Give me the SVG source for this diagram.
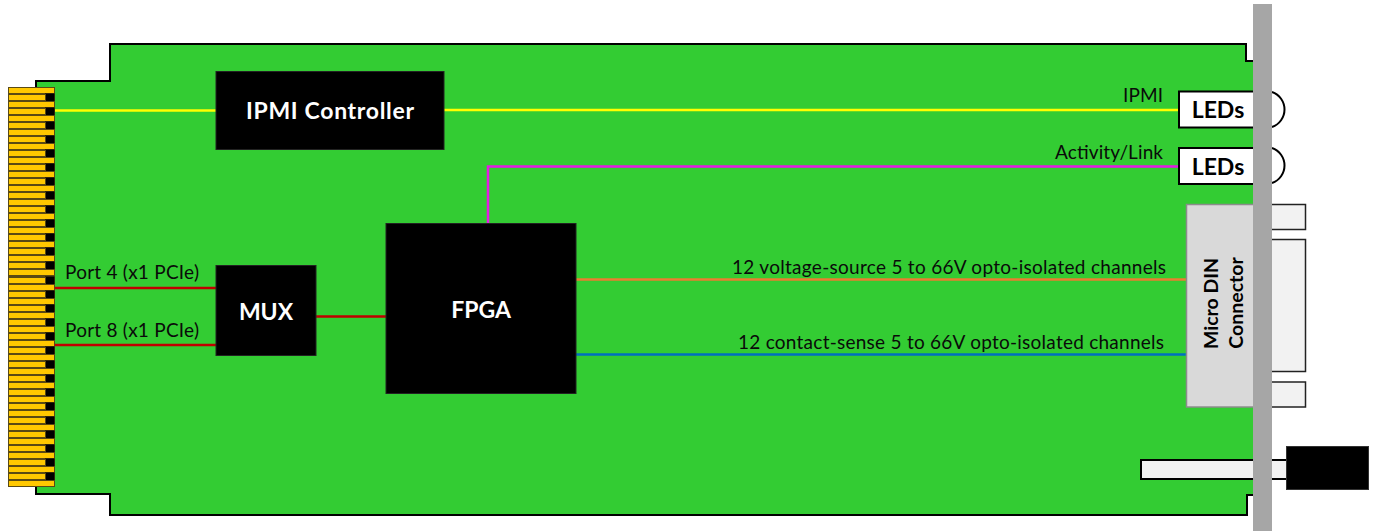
<svg xmlns="http://www.w3.org/2000/svg" width="1374" height="531" viewBox="0 0 1374 531">
<style>
text{font-family:Lato,"Open Sans","Liberation Sans",sans-serif;}
.lbl{font-size:19px;fill:#0a0a0a;}
.blk{fill:#000;stroke:#222;stroke-width:1;}
.wt{font-size:23px;font-weight:700;fill:#fff;text-anchor:middle;}
.led{fill:#fff;stroke:#000;stroke-width:2;}
.ledt{font-size:23px;font-weight:700;fill:#000;text-anchor:middle;}
.pale{fill:#f2f2f2;stroke:#222;stroke-width:1.5;}
.w{fill:none;stroke-width:2.5;}
.lf{fill:#ffc800;stroke:#5a4a14;stroke-width:1;}
</style>
<defs>
<g id="longf"><rect class="lf" x="8.500" y="0.500" width="46" height="6"/></g>
<g id="shortf"><rect x="45" y="-0.500" width="9.500" height="8" fill="#000"/><rect class="lf" x="8.500" y="0.500" width="37" height="6"/></g>
</defs>
<g id="pcb"><path d="M36 90V81H110V44H1246V61H1256V495H1247V515H110V494H36Z" fill="#33cc33" stroke="#000" stroke-width="2"/></g>
<g id="connectors">
<line class="w" x1="54" y1="110.500" x2="216" y2="110.500" stroke="#ffff00"/>
<line class="w" x1="444" y1="110" x2="1180" y2="110" stroke="#ffff00"/>
<path class="w" d="M488 224V166.500H1180" stroke="#e619e6"/>
<line class="w" x1="54" y1="288" x2="216" y2="288" stroke="#c00000"/>
<line class="w" x1="54" y1="345" x2="216" y2="345" stroke="#c00000"/>
<line class="w" x1="316" y1="316.500" x2="386" y2="316.500" stroke="#c00000"/>
<line class="w" x1="576" y1="279.500" x2="1188" y2="279.500" stroke="#ed7d31"/>
<line class="w" x1="576" y1="354.500" x2="1188" y2="354.500" stroke="#0070c0"/>
</g>
<g id="edge-connector">
<rect x="8" y="87" width="47" height="400" fill="#5a4a14"/>
<use href="#longf" y="87"/><use href="#shortf" y="94"/><use href="#longf" y="101"/><use href="#shortf" y="108"/><use href="#longf" y="115"/><use href="#shortf" y="122"/><use href="#longf" y="129"/><use href="#shortf" y="136"/><use href="#longf" y="143"/><use href="#shortf" y="150"/><use href="#longf" y="157"/><use href="#shortf" y="164"/><use href="#longf" y="171"/><use href="#shortf" y="178"/><use href="#longf" y="185"/><use href="#shortf" y="192"/><use href="#longf" y="199"/><use href="#shortf" y="206"/><use href="#longf" y="213"/><use href="#shortf" y="220"/><use href="#longf" y="227"/><use href="#shortf" y="234"/><use href="#longf" y="241"/><use href="#shortf" y="248"/><use href="#longf" y="255"/><use href="#shortf" y="262"/><use href="#longf" y="269"/><use href="#shortf" y="277"/><use href="#longf" y="284"/><use href="#shortf" y="291"/><use href="#longf" y="298"/><use href="#shortf" y="305"/><use href="#longf" y="312"/><use href="#shortf" y="319"/><use href="#longf" y="326"/><use href="#shortf" y="333"/><use href="#longf" y="340"/><use href="#shortf" y="347"/><use href="#longf" y="354"/><use href="#shortf" y="361"/><use href="#longf" y="368"/><use href="#shortf" y="375"/><use href="#longf" y="382"/><use href="#shortf" y="389"/><use href="#longf" y="396"/><use href="#shortf" y="403"/><use href="#longf" y="410"/><use href="#shortf" y="417"/><use href="#longf" y="424"/><use href="#shortf" y="431"/><use href="#longf" y="438"/><use href="#shortf" y="445"/><use href="#longf" y="452"/><use href="#shortf" y="459"/><use href="#longf" y="466"/><use href="#shortf" y="473"/><use href="#longf" y="480"/>
</g>
<g id="ipmi-controller"><rect class="blk" x="216" y="71.500" width="228" height="78"/><text class="wt" x="330" y="119" textLength="168">IPMI Controller</text></g>
<g id="mux"><rect class="blk" x="216" y="265.500" width="100" height="90"/><text class="wt" x="266" y="320">MUX</text></g>
<g id="fpga"><rect class="blk" x="386" y="223.500" width="190" height="170"/><text class="wt" x="481" y="318">FPGA</text></g>
<g id="labels">
<text class="lbl" x="65" y="279" textLength="134">Port 4 (x1 PCIe)</text>
<text class="lbl" x="65" y="337" textLength="134">Port 8 (x1 PCIe)</text>
<text class="lbl" x="1123" y="102" textLength="40">IPMI</text>
<text class="lbl" x="1055" y="159" textLength="108">Activity/Link</text>
<text class="lbl" x="732" y="274" textLength="434">12 voltage-source 5 to 66V opto-isolated channels</text>
<text class="lbl" x="738" y="349" textLength="426">12 contact-sense 5 to 66V opto-isolated channels</text>
</g>
<g id="led-1"><path class="led" d="M1272 92A18.500 18.500 0 0 1 1272 127"/><rect class="led" x="1179" y="91.500" width="80" height="36"/><text class="ledt" x="1218" y="118">LEDs</text></g>
<g id="led-2"><path class="led" d="M1272 148A18.500 18.500 0 0 1 1272 183"/><rect class="led" x="1179" y="148" width="80" height="36"/><text class="ledt" x="1218" y="175">LEDs</text></g>
<g id="micro-din">
<rect class="pale" x="1260" y="204.500" width="45.500" height="25"/>
<rect class="pale" x="1260" y="239.500" width="45.500" height="132"/>
<rect class="pale" x="1260" y="382" width="45.500" height="25"/>
<rect x="1186.500" y="204.500" width="72" height="202.500" fill="#d9d9d9" stroke="#8c8c8c" stroke-width="1.500"/>
<text font-size="19.500" font-weight="700" fill="#000" text-anchor="middle" transform="translate(1218 303.500) rotate(-90)">Micro DIN</text>
<text font-size="19.500" font-weight="700" fill="#000" text-anchor="middle" transform="translate(1243 303) rotate(-90)">Connector</text>
</g>
<g id="latch"><rect x="1141" y="460" width="150" height="19" fill="#f2f2f2" stroke="#000" stroke-width="2"/></g>
<g id="faceplate"><rect x="1253" y="4" width="19" height="527" fill="#a6a6a6"/></g>
<g id="latch-head"><rect x="1286.500" y="446.500" width="82" height="43" fill="#000" stroke="#333" stroke-width="1"/></g>
</svg>
